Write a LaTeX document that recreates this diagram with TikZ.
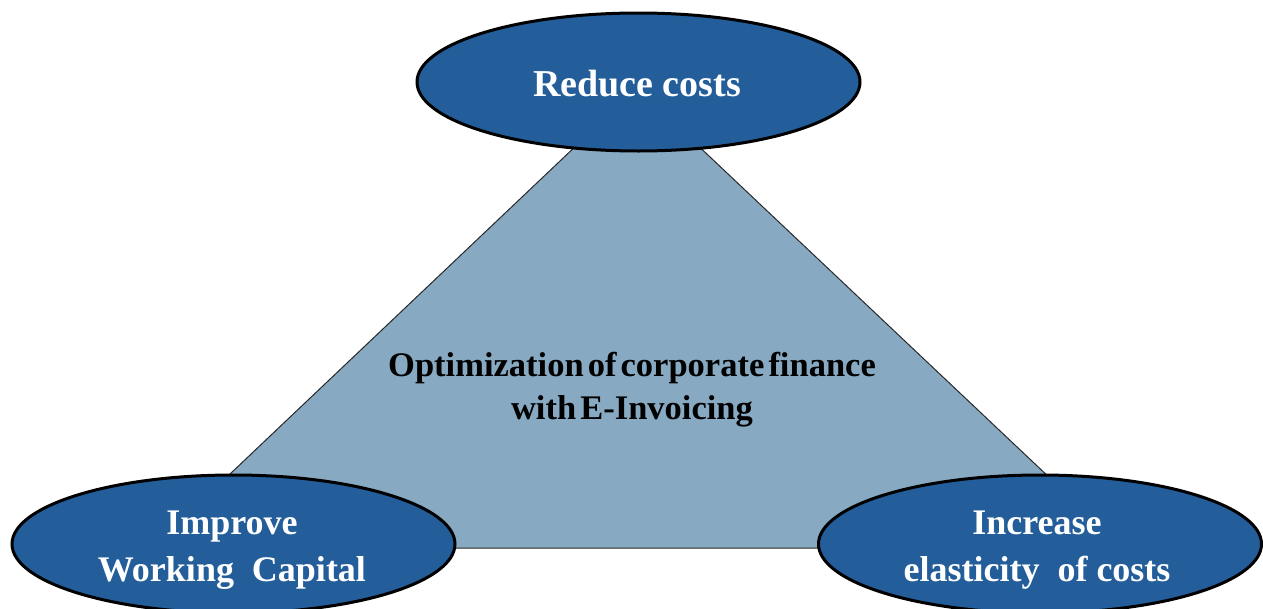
\documentclass[tikz,border=0pt]{standalone}
\usepackage{fontspec}
\setmainfont{Liberation Serif}
\usetikzlibrary{shapes.geometric}
\definecolor{ellblue}{RGB}{35,94,155}
\definecolor{trifill}{RGB}{135,169,194}
\definecolor{triedge}{RGB}{40,40,40}
\tikzset{
  goal/.style={ellipse, draw=black, line width=3pt, fill=ellblue,
    minimum width=443pt, minimum height=138pt, inner sep=0pt,
    text=white, font={\bfseries\fontsize{36}{47}\selectfont}, align=center},
  goaltext/.style={text=white, font={\bfseries\fontsize{36}{47}\selectfont}, align=center, inner sep=0pt},
  tri/.style={fill=trifill, draw=triedge, line width=1pt},
  centretext/.style={font={\bfseries\fontsize{34.5}{43}\selectfont\spaceskip=0.12em\relax}, align=center, text=black}
}
\begin{document}
\begin{tikzpicture}[x=1pt,y=-1pt]
\useasboundingbox (0,0) rectangle (1263,608);
\coordinate (apex) at (637,88);
\coordinate (bl) at (152,548);
\coordinate (br) at (1124,548);
\path[tri] (apex) -- (bl) -- (br) -- cycle;
\node[centretext] (mid) at (632,390) {Optimization of corporate finance\\with E-Invoicing};
\node[goal] (top) at (638.5,82) {};
\node[goal] (left) at (233.5,544) {};
\node[goal] (right) at (1040,544) {};
\node[goaltext, font={\bfseries\fontsize{38}{47}\selectfont}] (toptext) at (637,84) {Reduce costs};
\node[goaltext] (lefttext) at (232,550) {Improve\\Working\ \ Capital};
\node[goaltext] (righttext) at (1037,550) {Increase\\elasticity\ \ of costs};
\end{tikzpicture}
\end{document}
